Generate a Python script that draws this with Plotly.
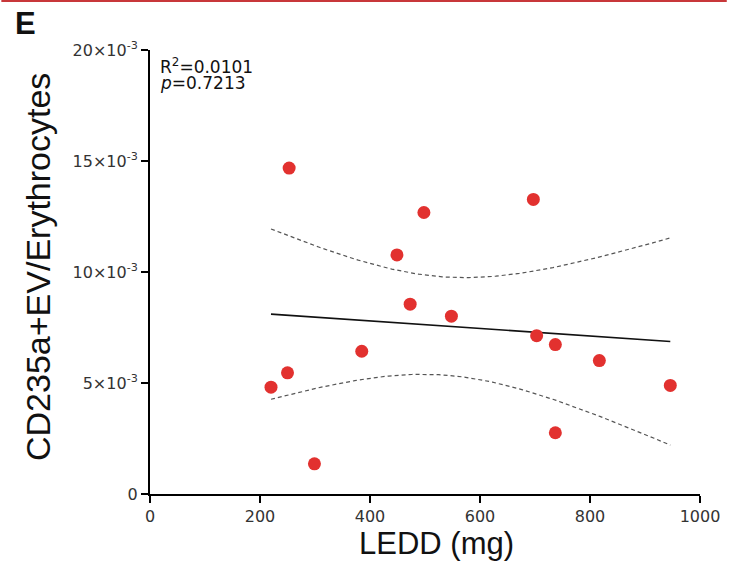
import numpy as np
import plotly.graph_objects as go

# LEDD dose (mg) and CD235a+ EV / erythrocyte ratio per patient
ledd_mg = [220, 250, 253, 299, 385, 449, 473, 498, 548, 697, 703, 737, 737, 817, 946]
cd235a_ratio = [0.00481, 0.00546, 0.01468, 0.00136, 0.00643, 0.01077, 0.00855,
                0.01268, 0.00801, 0.01327, 0.00713, 0.00673, 0.00276, 0.00601, 0.00489]

x_ticks = [0, 200, 400, 600, 800, 1000]
x_tick_text = ["0", "200", "400", "600", "800", "1000"]
y_ticks = [0, 0.005, 0.010, 0.015, 0.020]
y_tick_text = ["0", "5×10<sup>-3</sup>", "10×10<sup>-3</sup>",
               "15×10<sup>-3</sup>", "20×10<sup>-3</sup>"]

stats_r2 = "R<sup>2</sup>=0.0101"
stats_p = "<i>p</i>=0.7213"

T_CRIT_95_DF13 = 2.1604  # two-sided 95% t value, n-2 = 13

# Linear fit with 95% confidence band of the mean
x = np.array(ledd_mg, dtype=float)
y = np.array(cd235a_ratio, dtype=float)
n = len(x)
slope, intercept = np.polyfit(x, y, 1)
resid = y - (slope * x + intercept)
s = np.sqrt(np.sum(resid ** 2) / (n - 2))
sxx = np.sum((x - x.mean()) ** 2)
xs = np.linspace(x.min(), x.max(), 120)
fit = slope * xs + intercept
half = T_CRIT_95_DF13 * s * np.sqrt(1.0 / n + (xs - x.mean()) ** 2 / sxx)

fig = go.Figure()
fig.add_trace(go.Scatter(x=xs, y=fit + half, mode="lines",
                         line=dict(color="#555555", width=1.2, dash="4px,3px"),
                         hoverinfo="skip", showlegend=False))
fig.add_trace(go.Scatter(x=xs, y=fit - half, mode="lines",
                         line=dict(color="#555555", width=1.2, dash="4px,3px"),
                         hoverinfo="skip", showlegend=False))
fig.add_trace(go.Scatter(x=xs, y=fit, mode="lines",
                         line=dict(color="#111111", width=1.6),
                         hoverinfo="skip", showlegend=False))
fig.add_trace(go.Scatter(x=ledd_mg, y=cd235a_ratio, mode="markers",
                         marker=dict(color="#e2312f", size=13, line=dict(width=0)),
                         showlegend=False))

L, R, T, B = 150, 27, 50, 71
W, H = 732, 565
pw, ph = W - L - R, H - T - B


def px_x(p):
    return (p - L) / pw


def px_y(p):
    return (H - B - p) / ph


title_family = "Liberation Sans, Arial, sans-serif"
small_family = "DejaVu Sans, sans-serif"

fig.update_layout(
    width=W, height=H,
    margin=dict(l=L, r=R, t=T, b=B, pad=0),
    paper_bgcolor="white", plot_bgcolor="white",
    font=dict(family=title_family, color="#222222"),
    xaxis=dict(range=[0, 1000], tickvals=x_ticks, ticktext=x_tick_text,
               showgrid=False, zeroline=False, showline=True, linecolor="black",
               linewidth=2, ticks="outside", ticklen=7, tickwidth=2,
               tickcolor="black",
               tickfont=dict(family=small_family, size=16, color="#333333")),
    yaxis=dict(range=[0, 0.02], tickvals=y_ticks, ticktext=y_tick_text,
               showgrid=False, zeroline=False, showline=True, linecolor="black",
               linewidth=2, ticks="outside", ticklen=7, tickwidth=2,
               tickcolor="black",
               tickfont=dict(family=small_family, size=16, color="#333333")),
    annotations=[
        dict(text="CD235a+EV/Erythrocytes", xref="paper", yref="paper",
             x=px_x(37), y=px_y(267), textangle=-90, showarrow=False,
             xanchor="center", yanchor="middle",
             font=dict(size=34, color="#111111")),
        dict(text="LEDD (mg)", xref="paper", yref="paper",
             x=px_x(439), y=px_y(543), showarrow=False,
             xanchor="center", yanchor="middle",
             font=dict(size=31, color="#111111")),
        dict(text="<b>E</b>", xref="paper", yref="paper",
             x=px_x(12), y=px_y(24), showarrow=False,
             xanchor="left", yanchor="middle",
             font=dict(size=31, color="#111111")),
        dict(text=stats_r2, xref="paper", yref="paper",
             x=px_x(158), y=px_y(66), showarrow=False,
             xanchor="left", yanchor="middle",
             font=dict(family=small_family, size=17, color="#111111")),
        dict(text=stats_p, xref="paper", yref="paper",
             x=px_x(158), y=px_y(83), showarrow=False,
             xanchor="left", yanchor="middle",
             font=dict(family=small_family, size=17, color="#111111")),
    ],
    shapes=[
        dict(type="line", xref="paper", yref="paper",
             x0=px_x(0), x1=px_x(W), y0=px_y(1), y1=px_y(1),
             line=dict(color="#c8373a", width=2)),
    ],
)

fig.write_html("out.html")
